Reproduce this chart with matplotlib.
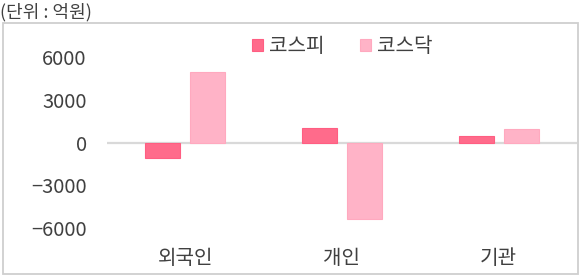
import matplotlib
matplotlib.use("Agg")
import matplotlib.pyplot as plt
from matplotlib.patches import Rectangle
import numpy as np

plt.rcParams['font.family'] = ['Noto Sans CJK KR', 'DejaVu Sans']

# data (억원)
categories = ['외국인', '개인', '기관']
kospi = [-1100, 1050, 480]
kosdaq = [4950, -5350, 950]
yticks = [-6000, -3000, 0, 3000, 6000]

kospi_color = '#FF6B8B'
kosdaq_color = '#FFB3C7'
text_color = '#404040'

W, H = 580, 277
fig = plt.figure(figsize=(W / 100, H / 100), dpi=100)

# axes placed in pixel units: x 107..577, y top 43 .. bottom 242
left, right, top, bottom = 107, 577, 43.2, 242.2
ax = fig.add_axes([left / W, 1 - bottom / H, (right - left) / W, (bottom - top) / H])

x = np.arange(len(categories))
w = 0.223
off = 0.143
ax.bar(x - off, kospi, w, color=kospi_color, edgecolor='#FF5E82', linewidth=0.8,
       label='코스피', zorder=3)
ax.bar(x + off, kosdaq, w, color=kosdaq_color, edgecolor='#FFA9BF', linewidth=0.8,
       label='코스닥', zorder=3)

ax.axhline(0, color='#D9D9D9', linewidth=1.6, zorder=2)
ax.set_xlim(-0.5, len(categories) - 0.5)
ax.set_ylim(-7000, 7000)
ax.set_yticks(yticks)
ax.set_yticklabels([f'{v}'.replace('-', '\u2212') for v in yticks])
ax.set_xticks(x)
ax.set_xticklabels(categories)
ax.tick_params(axis='y', length=0, pad=14.5, labelsize=14.5, labelcolor=text_color)
ax.tick_params(axis='x', length=0, pad=4, labelsize=14.5, labelcolor=text_color)
for s in ax.spines.values():
    s.set_visible(False)
ax.patch.set_alpha(0)

leg = fig.legend(loc='center', bbox_to_anchor=(342 / W, 1 - 47 / H), ncol=2,
                 frameon=False, fontsize=14.5, handlelength=0.55, handleheight=0.55,
                 handletextpad=0.3, columnspacing=1.75, labelcolor=text_color)

# outer frame
fig.patches.append(Rectangle((2.5 / W, 1 - 273.5 / H), 575 / W, 250.5 / H,
                             transform=fig.transFigure, fill=False,
                             edgecolor='#CFCFCF', linewidth=1.3))

fig.text(0, 1 - 12 / H, '(단위 : 억원)', fontsize=13, color=text_color,
         ha='left', va='center')

fig.savefig('out.png', dpi=100)
